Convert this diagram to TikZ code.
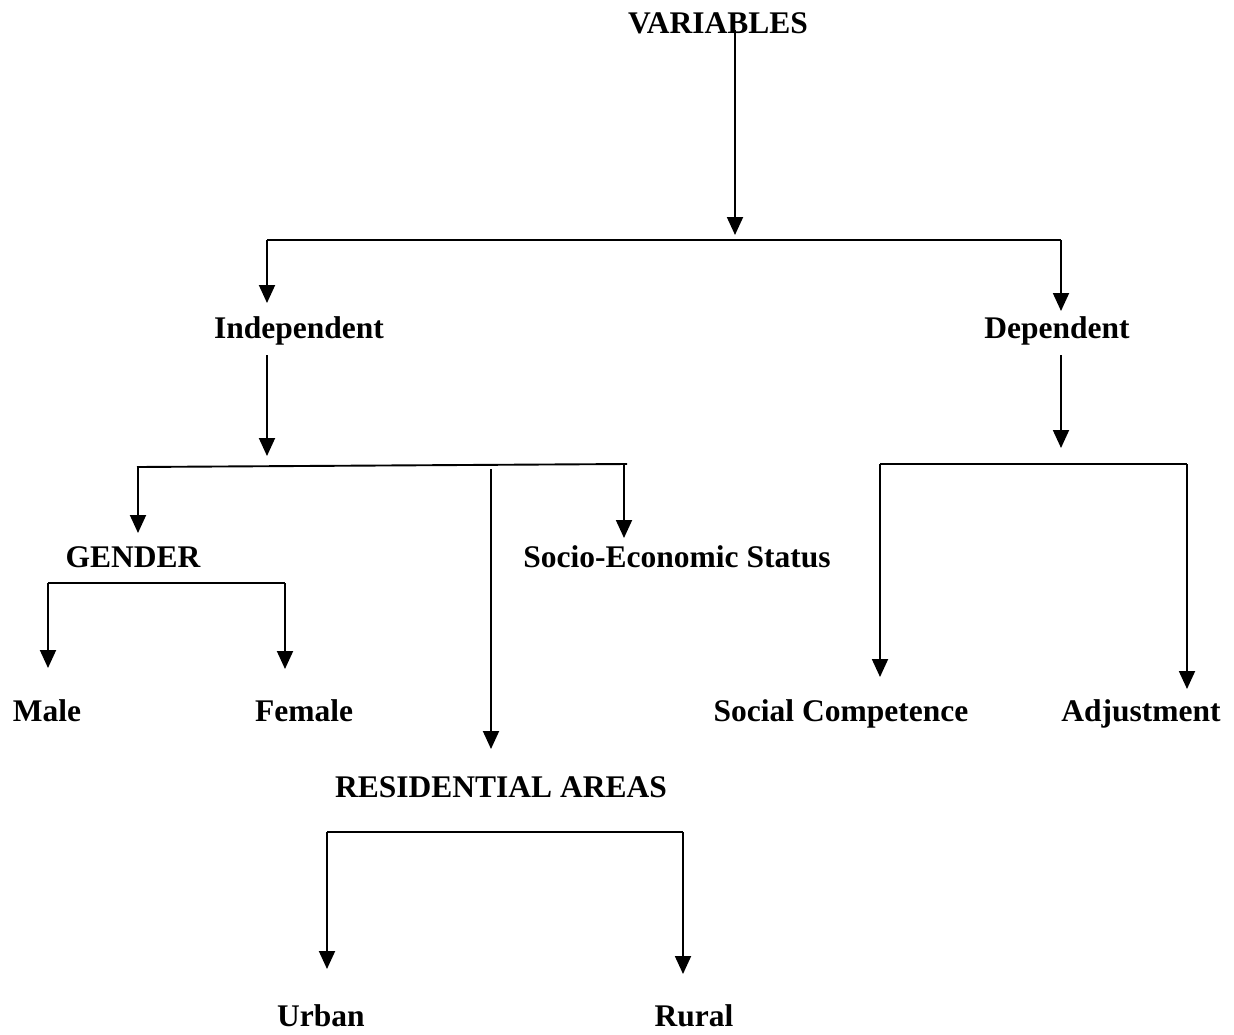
\documentclass[tikz,border=0pt]{standalone}
\usepackage{fontspec}
\setmainfont{Liberation Serif}
\usetikzlibrary{arrows.meta}
\begin{document}
\begin{tikzpicture}[x=1pt,y=-1pt,
  lbl/.style={anchor=base,inner sep=0pt,font=\fontsize{31.5}{36}\selectfont\bfseries},
  conn/.style={line width=1.9pt},
  arr/.style={line width=1.9pt,-{Triangle[width=16pt,length=18pt]}}]
\useasboundingbox (0,0) rectangle (1234,1034);
% labels
\node[lbl] (var) at (718,33) {VARIABLES};
\node[lbl] (ind) at (299,338) {Independent};
\node[lbl] (dep) at (1057,338) {Dependent};
\node[lbl] (gen) at (133,567) {GENDER};
\node[lbl] (ses) at (677,567) {Socio-Economic Status};
\node[lbl] (male) at (47,721) {Male};
\node[lbl] (fem) at (304,721) {Female};
\node[lbl] (soc) at (841,721) {Social Competence};
\node[lbl] (adj) at (1141,721) {Adjustment};
\node[lbl] (res) at (501,797) {RESIDENTIAL AREAS};
\node[lbl] (urb) at (321,1026) {Urban};
\node[lbl] (rur) at (694,1026) {Rural};
% junction coordinates
\coordinate (v0) at (735,30);
\coordinate (v1) at (735,235);
\coordinate (hL) at (267,240);
\coordinate (hR) at (1061,240);
\coordinate (tInd) at (267,303);
\coordinate (tDep) at (1061,311);
% independent
\coordinate (i0) at (267,355);
\coordinate (i1) at (267,456);
\coordinate (iL) at (137,467);
\coordinate (iR) at (627,464);
\coordinate (gA) at (138,467);
\coordinate (tGen) at (138,533);
\coordinate (sA) at (624,464);
\coordinate (tSes) at (624,538);
\coordinate (r0) at (491,469);
\coordinate (tRes) at (491,749);
% gender
\coordinate (gL) at (48,583);
\coordinate (gR) at (285,583);
\coordinate (tMale) at (48,668);
\coordinate (tFem) at (285,669);
% dependent
\coordinate (d0) at (1061,355);
\coordinate (d1) at (1061,448);
\coordinate (dL) at (880,464);
\coordinate (dR) at (1187,464);
\coordinate (tSoc) at (880,677);
\coordinate (tAdj) at (1187,689);
% residential
\coordinate (rL) at (327,832);
\coordinate (rR) at (683,832);
\coordinate (tUrb) at (327,969);
\coordinate (tRur) at (683,974);
% connectors
\draw[arr] (v0) -- (v1);
\draw[conn] (hL) -- (hR);
\draw[arr] (hL) -- (tInd);
\draw[arr] (hR) -- (tDep);
\draw[arr] (i0) -- (i1);
\draw[conn] (iL) -- (iR);
\draw[arr] (gA) -- (tGen);
\draw[arr] (sA) -- (tSes);
\draw[arr] (r0) -- (tRes);
\draw[conn] (gL) -- (gR);
\draw[arr] (gL) -- (tMale);
\draw[arr] (gR) -- (tFem);
\draw[arr] (d0) -- (d1);
\draw[conn] (dL) -- (dR);
\draw[arr] (dL) -- (tSoc);
\draw[arr] (dR) -- (tAdj);
\draw[conn] (rL) -- (rR);
\draw[arr] (rL) -- (tUrb);
\draw[arr] (rR) -- (tRur);
\end{tikzpicture}
\end{document}
